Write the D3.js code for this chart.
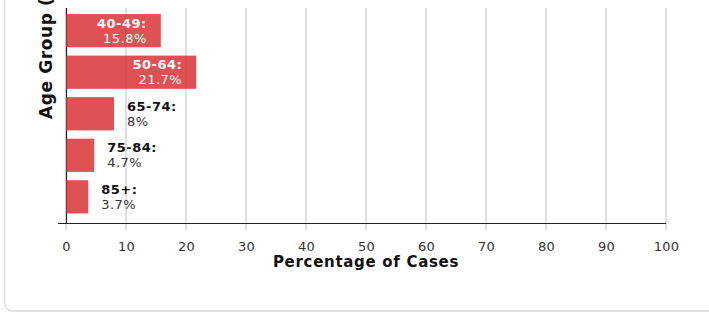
<!DOCTYPE html>
<html>
<head>
<meta charset="utf-8">
<script src="https://cdn.jsdelivr.net/npm/d3@7/dist/d3.min.js"></script>
<style>
    html, body { margin: 0; padding: 0; background: #fff; overflow: hidden; }
    svg { display: block; font-family: 'DejaVu Sans', Verdana, sans-serif; }
</style>
</head>
<body>
<svg id="chart" width="709" height="313"></svg>
<script>
// data
const ageGroups = ['40-49', '50-64', '65-74', '75-84', '85+'];
const percentages = [15.8, 21.7, 8, 4.7, 3.7];
const xTicks = [0, 10, 20, 30, 40, 50, 60, 70, 80, 90, 100];

const rows = ageGroups.map((g, i) => ({ group: g, value: percentages[i] }));

const svg = d3.select('#chart');

// card behind the chart
svg.append('rect')
    .attr('x', 4.5)
    .attr('y', -30)
    .attr('width', 800)
    .attr('height', 341)
    .attr('rx', 8)
    .attr('fill', '#fff')
    .attr('stroke', '#dcdcdc')
    .attr('stroke-width', 1.5);

const plot = { left: 66, right: 666, top: 8, bottom: 223 };

const x = d3.scaleLinear()
    .domain([0, 100])
    .range([plot.left, plot.right]);

const y = d3.scaleBand()
    .domain(ageGroups)
    .range([4.5, plot.bottom])
    .paddingInner(0.2)
    .paddingOuter(0.23);

// grid lines (they also serve as tick marks below the axis)
svg.append('g')
    .attr('class', 'grid')
    .selectAll('line')
    .data(xTicks)
    .enter()
    .append('line')
    .attr('x1', d => x(d))
    .attr('x2', d => x(d))
    .attr('y1', plot.top)
    .attr('y2', plot.bottom + 7)
    .attr('stroke', '#d4d4d4')
    .attr('stroke-width', 1.5);

// x axis
const xAxis = svg.append('g')
    .attr('transform', `translate(0,${plot.bottom})`)
    .call(d3.axisBottom(x).tickValues(xTicks).tickSize(0).tickPadding(19));

xAxis.select('.domain').remove();
xAxis.selectAll('text')
    .attr('font-size', 13)
    .attr('font-family', "'DejaVu Sans', Verdana, sans-serif")
    .attr('letter-spacing', 0.2)
    .attr('fill', '#333');

svg.append('line')
    .attr('x1', 58)
    .attr('x2', plot.right)
    .attr('y1', plot.bottom + 0.5)
    .attr('y2', plot.bottom + 0.5)
    .attr('stroke', '#222')
    .attr('stroke-width', 1.2);

// y axis line
svg.append('line')
    .attr('x1', plot.left + 0.5)
    .attr('x2', plot.left + 0.5)
    .attr('y1', plot.top)
    .attr('y2', plot.bottom)
    .attr('stroke', '#222')
    .attr('stroke-width', 1.2);

// bars
svg.append('g')
    .attr('class', 'bars')
    .selectAll('rect')
    .data(rows)
    .enter()
    .append('rect')
    .attr('x', x(0))
    .attr('y', d => y(d.group))
    .attr('width', d => x(d.value) - x(0))
    .attr('height', y.bandwidth())
    .attr('fill', '#d62728')
    .attr('fill-opacity', 0.8);

// labels: inside the bar when there is room, otherwise to the right
const inside = d => d.value > 12;

const labels = svg.append('g')
    .attr('class', 'labels')
    .selectAll('text')
    .data(rows)
    .enter()
    .append('text')
    .attr('font-size', 13)
    .attr('letter-spacing', 0.5)
    .attr('text-anchor', d => inside(d) ? 'end' : 'start');

labels.append('tspan')
    .attr('x', d => inside(d) ? x(d.value) - 14 : x(d.value) + 13)
    .attr('y', d => y(d.group) + y.bandwidth() / 2 - 3)
    .attr('font-weight', 'bold')
    .attr('fill', d => inside(d) ? '#fff' : '#111')
    .text(d => d.group + ':');

labels.append('tspan')
    .attr('x', d => inside(d) ? x(d.value) - 14 : x(d.value) + 13)
    .attr('y', d => y(d.group) + y.bandwidth() / 2 + 12)
    .attr('fill', d => inside(d) ? '#fff' : '#333')
    .text(d => d.value + '%');

// axis titles
svg.append('text')
    .attr('x', (plot.left + plot.right) / 2)
    .attr('y', 267)
    .attr('text-anchor', 'middle')
    .attr('font-size', 15)
    .attr('letter-spacing', 0.7)
    .attr('font-weight', 'bold')
    .attr('fill', '#111')
    .text('Percentage of Cases');

svg.append('text')
    .attr('transform', 'translate(52,119) rotate(-90)')
    .attr('text-anchor', 'start')
    .attr('font-size', 17)
    .attr('letter-spacing', 0.6)
    .attr('font-weight', 'bold')
    .attr('fill', '#111')
    .text('Age Group (years)');
</script>
</body>
</html>
